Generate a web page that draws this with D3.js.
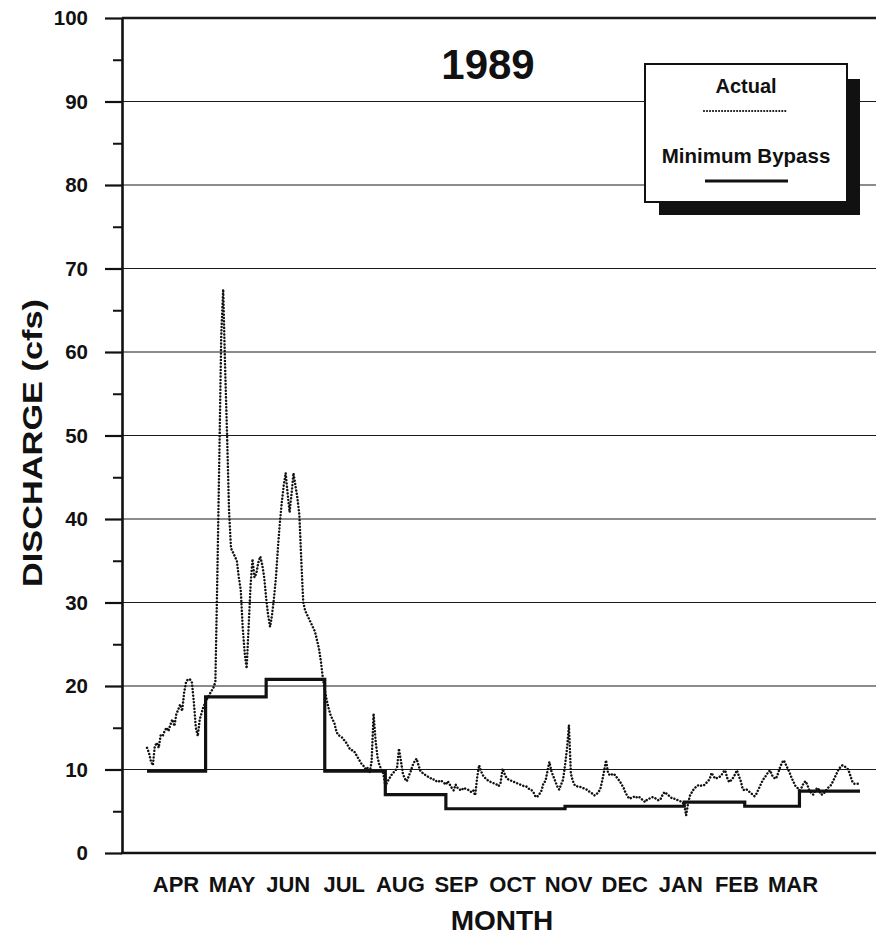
<!DOCTYPE html>
<html><head><meta charset="utf-8">
<script src="https://cdn.jsdelivr.net/npm/d3@7"></script>
<style>
body{margin:0;background:#fff}
svg{display:block}
text{font-family:"Liberation Sans",Arial,Helvetica,sans-serif;font-weight:bold;fill:#111}
</style>
</head><body>
<svg id="chart" width="876" height="935"></svg>
<script>
// ---------- data ----------
const chartTitle = "1989";
const yAxisTitle = "DISCHARGE (cfs)";
const xAxisTitle = "MONTH";
const monthLabels = ["APR","MAY","JUN","JUL","AUG","SEP","OCT","NOV","DEC","JAN","FEB","MAR"];
const yMajorTicks = [0,10,20,30,40,50,60,70,80,90,100];
const yMinorTicks = [5,15,25,35,45,55,65,75,85,95];
const seriesNames = ["Actual","Minimum Bypass"];

// Minimum bypass flow, step value starting at each date
const bypassDates = ["1989-04-01","1989-05-01","1989-06-01","1989-07-01","1989-08-01","1989-09-01",
                     "1989-10-01","1989-11-01","1989-12-01","1990-01-01","1990-02-01","1990-03-01","1990-04-01"];
const bypassValues = [9.8,18.7,20.8,9.8,7.0,5.3,5.3,5.6,5.6,6.1,5.6,7.4,7.4];

// Actual daily discharge, starting 1989-04-01
const actualStart = "1989-04-01";
const actualValues = [
 // Apr
 12.6,12.0,11.0,10.5,12.8,13.2,12.6,14.1,14.0,14.6,15.0,14.6,15.4,16.0,15.2,16.6,17.2,17.8,17.0,19.2,20.5,20.8,20.8,20.4,18.0,15.0,14.0,16.0,16.8,17.6,
 // May
 18.0,18.6,19.0,19.4,19.8,20.5,33,47,62,67.5,58,50,41,36.5,36,35.5,35,33,31.5,27,24,22.1,27,32,35.2,33,33.5,34.8,35.5,34.5,33,
 // Jun
 30.5,28.5,27.1,28.5,30.5,33,36.5,39.5,42,44,45.5,43,40.8,43,45.5,44,42.5,40.5,35,30,29,28.5,28,27.5,27,26.5,25.5,24.5,23,21,
 // Jul
 19.5,18.3,17.3,16.5,16,15.5,14.5,14.1,14,13.8,13.5,13.2,12.8,12.4,12.3,12.2,11.8,11.4,11,10.6,10.4,10,10.2,9.6,11,16.7,13.5,11.5,10.5,10,9.5,
 // Aug
 8,8.5,8.9,9.3,9.6,9.8,10.2,12.5,11,9.5,8.9,8.6,9.2,9.8,10.5,11,11.3,10.5,9.8,9.6,9.4,9.3,9.1,9,8.8,8.8,8.6,8.7,8.5,8.6,8.4,
 // Sep
 8.2,8.6,8.2,7.8,7.5,8.2,7.8,7.6,7.5,7.8,7.7,7.6,7.5,7.3,7.5,6.9,9,10.5,9.8,9.3,9,8.8,8.6,8.5,8.4,8.3,8.2,8,8.4,10.1,
 // Oct
 9.5,9,8.8,8.7,8.6,8.5,8.4,8.3,8.2,8.1,8,8,7.8,7.6,7.5,7.2,6.7,6.8,7.1,7.5,8.4,8.6,9.8,10.9,9.8,9.2,8.6,8,7.6,8.2,8.8,
 // Nov
 10.5,12.5,15.3,9.5,8.6,8.1,8.0,7.9,7.9,7.8,7.7,7.6,7.4,7.3,7.1,6.9,7.0,7.3,7.6,8.6,9.8,11.1,9.6,9.3,9.4,9.5,9.2,8.9,8.6,8.2,
 // Dec
 7.8,7.2,6.8,6.5,6.6,6.7,6.8,6.6,6.7,6.5,6.3,6.1,6.4,6.5,6.6,6.7,6.6,6.4,6.3,6.5,7.0,7.3,7.1,6.9,6.7,6.5,6.5,6.4,6.3,6.2,6.1,
 // Jan
 5.8,4.5,6.0,6.9,7.3,7.7,7.9,8.1,8.0,8.1,8.1,8.3,8.6,8.8,9.6,9.2,8.9,9.0,9.1,9.3,9.7,9.9,9.0,8.5,8.7,9.0,9.4,9.9,9.2,8.6,7.6,
 // Feb
 7.5,7.6,7.4,7.2,7.0,6.8,7.1,7.6,8.1,8.6,9.0,9.3,9.7,9.9,9.3,9.0,8.9,9.5,10.2,10.8,11.1,10.6,10.1,9.6,9.0,8.5,8.0,7.8,
 // Mar
 7.5,7.8,8.3,8.6,8.2,7.5,7.2,7.0,7.4,7.8,7.6,7.0,7.0,7.3,7.6,7.9,8.1,8.5,9.0,9.5,10.0,10.3,10.5,10.4,10.2,10.0,9.3,8.6,8.3,8.3,8.3
];

// ---------- chart ----------
const W = 876, H = 935;
const svg = d3.select("#chart");
const parse = d3.timeParse("%Y-%m-%d");
const start = parse(actualStart);
const actual = actualValues.map((v,i)=>({date:d3.timeDay.offset(start,i), value:v}));
const bypass = bypassDates.map((d,i)=>({date:parse(d), value:bypassValues[i]}));

const plotLeft = 122, plotTop = 18, plotBottom = 853;
const x = d3.scaleTime().domain([parse("1989-04-01"), parse("1990-04-01")]).range([147, 860]);
const y = d3.scaleLinear().domain([0,100]).range([plotBottom, plotTop]);
const xLab = d3.scalePoint().domain(monthLabels).range([176, 793]);

// gridlines
svg.append("g").selectAll("line").data(yMajorTicks.filter(t=>t>0)).join("line")
  .attr("x1", plotLeft).attr("x2", W)
  .attr("y1", d=>y(d)).attr("y2", d=>y(d))
  .attr("stroke", "#1a1a1a")
  .attr("stroke-width", d=> d===100 ? 2.4 : 1.2);

// bottom axis line
svg.append("line").attr("x1", plotLeft-1).attr("x2", W).attr("y1", y(0)).attr("y2", y(0))
  .attr("stroke", "#111").attr("stroke-width", 2.6);

// y axis (major)
const yAxis = svg.append("g").attr("transform", `translate(${plotLeft},0)`)
  .call(d3.axisLeft(y).tickValues(yMajorTicks).tickSize(17).tickSizeOuter(0).tickPadding(17).tickFormat(d3.format("d")));
yAxis.select(".domain").attr("stroke", "#111").attr("stroke-width", 2.6);
yAxis.selectAll(".tick line").attr("stroke", "#111").attr("stroke-width", 2.2);
yAxis.selectAll(".tick text").attr("font-size", 20.5).attr("font-family", '"Liberation Sans",Arial,sans-serif')
  .attr("font-weight", "bold").attr("fill", "#111");
// y axis (minor)
const yMinor = svg.append("g").attr("transform", `translate(${plotLeft},0)`)
  .call(d3.axisLeft(y).tickValues(yMinorTicks).tickSize(9).tickSizeOuter(0).tickFormat(""));
yMinor.select(".domain").remove();
yMinor.selectAll(".tick line").attr("stroke", "#111").attr("stroke-width", 2);

// series
svg.append("path").datum(bypass)
  .attr("d", d3.line().x(d=>x(d.date)).y(d=>y(d.value)).curve(d3.curveStepAfter))
  .attr("fill", "none").attr("stroke", "#111").attr("stroke-width", 3.2);
svg.append("path").datum(actual)
  .attr("d", d3.line().x(d=>x(d.date)).y(d=>y(d.value)))
  .attr("fill", "none").attr("stroke", "#111").attr("stroke-width", 2.5)
  .attr("stroke-linecap", "round").attr("stroke-dasharray", "0.01,3.3");

// month labels
svg.append("g").selectAll("text").data(monthLabels).join("text")
  .attr("x", d=>xLab(d)).attr("y", 892)
  .attr("text-anchor", "middle").attr("font-size", 22).text(d=>d);

// axis titles
svg.append("text").attr("x", 502).attr("y", 930).attr("text-anchor", "middle")
  .attr("font-size", 28).text(xAxisTitle);
svg.append("text").attr("transform", "translate(42,443) rotate(-90)")
  .attr("text-anchor", "middle").attr("font-size", 28)
  .attr("textLength", 288).attr("lengthAdjust", "spacingAndGlyphs").text(yAxisTitle);

// title
svg.append("text").attr("x", 488).attr("y", 79).attr("text-anchor", "middle")
  .attr("font-size", 42).text(chartTitle);

// legend
const lg = svg.append("g");
lg.append("rect").attr("x", 659).attr("y", 79).attr("width", 201).attr("height", 136).attr("fill", "#111");
lg.append("rect").attr("x", 645).attr("y", 64).attr("width", 202).attr("height", 138)
  .attr("fill", "#fff").attr("stroke", "#111").attr("stroke-width", 2);
lg.append("text").attr("x", 746).attr("y", 93).attr("text-anchor", "middle").attr("font-size", 20).text(seriesNames[0]);
lg.append("line").attr("x1", 704).attr("x2", 787).attr("y1", 111).attr("y2", 111)
  .attr("stroke", "#111").attr("stroke-width", 2.2).attr("stroke-linecap", "round").attr("stroke-dasharray", "0.01,3");
lg.append("text").attr("x", 746).attr("y", 163).attr("text-anchor", "middle").attr("font-size", 20.5).text(seriesNames[1]);
lg.append("line").attr("x1", 705).attr("x2", 788).attr("y1", 181).attr("y2", 181)
  .attr("stroke", "#111").attr("stroke-width", 3);
</script>
</body></html>
